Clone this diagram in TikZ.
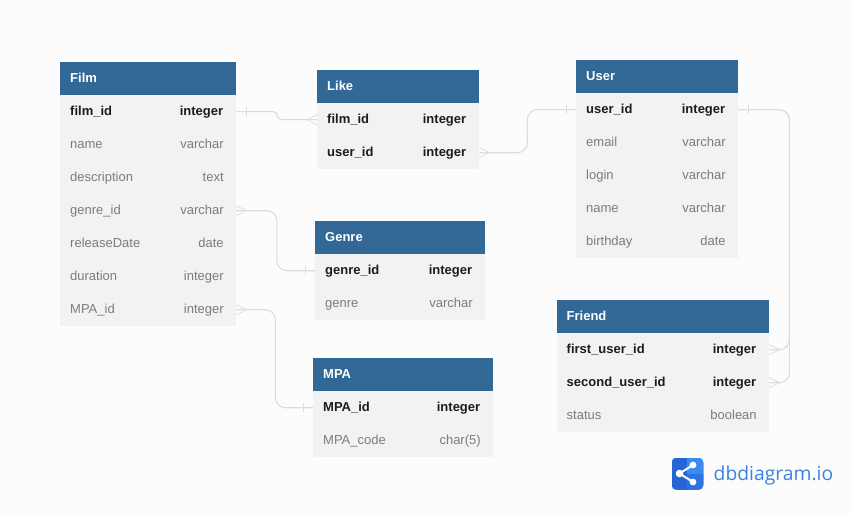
\documentclass[tikz,border=0pt]{standalone}
\usepackage{fontspec}
\setmainfont{Liberation Sans}
\newfontfamily\logofont{Open Sans}
\definecolor{pagebg}{HTML}{FCFCFC}
\definecolor{headblue}{HTML}{316896}
\definecolor{rowgrey}{HTML}{F2F2F2}
\definecolor{relgrey}{HTML}{DCDCDC}
\definecolor{keyblack}{HTML}{1C1C1C}
\definecolor{softgrey}{HTML}{7C7C7C}
\definecolor{logoblue}{HTML}{3C80E4}
\definecolor{logodark}{HTML}{2566D6}
\definecolor{logomid}{HTML}{2D74E2}
\definecolor{logolight}{HTML}{3D8AF2}
\tikzset{
    headbox/.style={anchor=north west, fill=headblue, minimum height=33pt, inner sep=0pt},
    rowbox/.style={anchor=north west, fill=rowgrey, minimum height=33pt, inner sep=0pt},
    titletext/.style={anchor=base west, xshift=10pt, yshift=-3.5pt, inner sep=0pt, text=white, font=\bfseries\fontsize{13}{15}\selectfont},
    keyname/.style={anchor=base west, xshift=10pt, yshift=-3.5pt, inner sep=0pt, text=keyblack, font=\bfseries\fontsize{13}{15}\selectfont},
    keytype/.style={anchor=base east, xshift=-13pt, yshift=-3.5pt, inner sep=0pt, text=keyblack, font=\bfseries\fontsize{13}{15}\selectfont},
    plainname/.style={anchor=base west, xshift=10pt, yshift=-3.5pt, inner sep=0pt, text=softgrey, font=\fontsize{13}{15}\selectfont},
    plaintype/.style={anchor=base east, xshift=-12.5pt, yshift=-3.5pt, inner sep=0pt, text=softgrey, font=\fontsize{13}{15}\selectfont},
    relline/.style={draw=relgrey, line width=1.1pt},
    relmark/.style={draw=relgrey, line width=0.7pt},
}
\begin{document}
\begin{tikzpicture}[x=1pt,y=-1pt]
    \useasboundingbox (0,0) rectangle (851,516);
    \fill[pagebg] (0,0) rectangle (851,516);

    % Film
    \node[headbox, minimum width=176pt] (filmhead) at (60,62) {};
    \node[titletext] (filmtitle) at (filmhead.west) {Film};
    \foreach \i/\n/\t/\k in {1/film\_id/integer/key,2/name/varchar/plain,3/description/text/plain,4/genre\_id/varchar/plain,5/releaseDate/date/plain,6/duration/integer/plain,7/MPA\_id/integer/plain} {
        \node[rowbox, minimum width=176pt] (film\i) at (60,{62+33*\i}) {};
        \node[\k name] (filmname\i) at (film\i.west) {\n};
        \node[\k type] (filmtype\i) at (film\i.east) {\t};
    }

    % Like
    \node[headbox, minimum width=162pt] (likehead) at (317,70) {};
    \node[titletext] (liketitle) at (likehead.west) {Like};
    \foreach \i/\n/\t/\k in {1/film\_id/integer/key,2/user\_id/integer/key} {
        \node[rowbox, minimum width=162pt] (like\i) at (317,{70+33*\i}) {};
        \node[\k name] (likename\i) at (like\i.west) {\n};
        \node[\k type] (liketype\i) at (like\i.east) {\t};
    }

    % User
    \node[headbox, minimum width=162pt] (userhead) at (576,60) {};
    \node[titletext] (usertitle) at (userhead.west) {User};
    \foreach \i/\n/\t/\k in {1/user\_id/integer/key,2/email/varchar/plain,3/login/varchar/plain,4/name/varchar/plain,5/birthday/date/plain} {
        \node[rowbox, minimum width=162pt] (user\i) at (576,{60+33*\i}) {};
        \node[\k name] (username\i) at (user\i.west) {\n};
        \node[\k type] (usertype\i) at (user\i.east) {\t};
    }

    % Genre
    \node[headbox, minimum width=170pt] (genrehead) at (315,221) {};
    \node[titletext] (genretitle) at (genrehead.west) {Genre};
    \foreach \i/\n/\t/\k in {1/genre\_id/integer/key,2/genre/varchar/plain} {
        \node[rowbox, minimum width=170pt] (genre\i) at (315,{221+33*\i}) {};
        \node[\k name] (genrename\i) at (genre\i.west) {\n};
        \node[\k type] (genretype\i) at (genre\i.east) {\t};
    }

    % MPA
    \node[headbox, minimum width=180pt] (mpahead) at (313,358) {};
    \node[titletext] (mpatitle) at (mpahead.west) {MPA};
    \foreach \i/\n/\t/\k in {1/MPA\_id/integer/key,2/MPA\_code/char(5)/plain} {
        \node[rowbox, minimum width=180pt] (mpa\i) at (313,{358+33*\i}) {};
        \node[\k name] (mpaname\i) at (mpa\i.west) {\n};
        \node[\k type] (mpatype\i) at (mpa\i.east) {\t};
    }

    % Friend
    \node[headbox, minimum width=212.5pt] (friendhead) at (556.5,300) {};
    \node[titletext] (friendtitle) at (friendhead.west) {Friend};
    \foreach \i/\n/\t/\k in {1/first\_user\_id/integer/key,2/second\_user\_id/integer/key,3/status/boolean/plain} {
        \node[rowbox, minimum width=212.5pt] (friend\i) at (556.5,{300+33*\i}) {};
        \node[\k name] (friendname\i) at (friend\i.west) {\n};
        \node[\k type] (friendtype\i) at (friend\i.east) {\t};
    }

    % relations
    \draw[relline, rounded corners=4pt] (film1.east) -- ++(41,0) |- (like1.west);
    \draw[relline, rounded corners=10pt] (like2.east) -- ++(48,0) |- (user1.west);
    \draw[relline, rounded corners=10pt] (film4.east) -- ++(40.5,0) |- (genre1.west);
    \draw[relline, rounded corners=10pt] (film7.east) -- ++(39,0) |- (mpa1.west);
    \draw[relline, rounded corners=10pt] (user1.east) -- ++(51,0) |- (friend1.east);
    \draw[relline, rounded corners=10pt] (user1.east) -- ++(51,0) |- (friend2.east);

    % one ends
    \foreach \a/\s in {film1.east/10,user1.east/10,user1.west/-10,genre1.west/-10,mpa1.west/-10} {
        \draw[relmark] ([shift={(\s pt,-4.5pt)}]\a) -- ([shift={(\s pt,4.5pt)}]\a);
    }
    % many ends
    \foreach \a/\s in {like1.west/-1,like2.east/1,film4.east/1,film7.east/1,friend1.east/1,friend2.east/1} {
        \draw[relmark] ([yshift=5pt]\a) -- ([xshift=\s*10pt]\a) -- ([yshift=-5pt]\a);
    }

    % logo
    \begin{scope}
        \clip[rounded corners=5pt] (671.5,457.5) rectangle (703.5,490);
        \fill[logodark] (671.5,457.5) rectangle (687,490);
        \fill[logolight] (687,457.5) rectangle (703.5,474);
        \fill[logomid] (687,474) rectangle (703.5,490);
    \end{scope}
    \draw[white, line width=2pt] (693,465) -- (679.5,473.5) -- (693,482);
    \fill[white] (679.5,473.5) circle (3.8pt);
    \fill[white] (693,465) circle (3.4pt);
    \fill[white] (693,482) circle (3.4pt);
    \node[anchor=base west, inner sep=0pt, text=logoblue, font=\logofont\fontsize{19.3}{22}\selectfont] (logotext) at (713.5,480.5) {dbdiagram.io};
\end{tikzpicture}
\end{document}
